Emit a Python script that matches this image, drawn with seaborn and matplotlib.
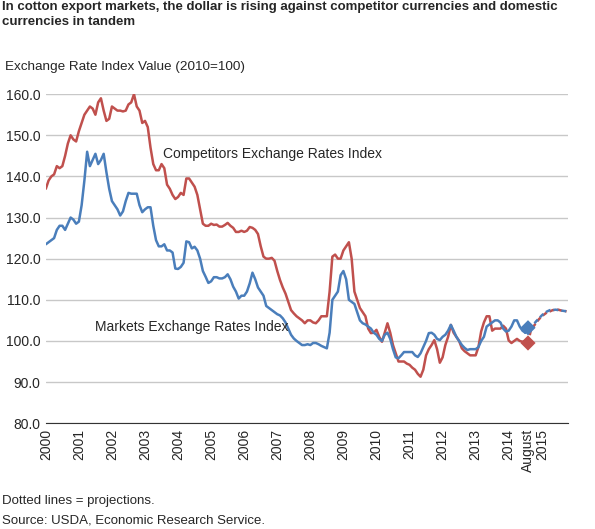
import numpy as np
import pandas as pd
import matplotlib
matplotlib.use("Agg")
import matplotlib.pyplot as plt
import seaborn as sns

competitors = [
    137,139,140,140.5,142.5,142,142.5,145,148,150,149,148.5,
    151,153,155,156,157,156.5,155,158,159,156,153.5,154,
    157,156.5,156,156,155.8,156,157.5,158,160,157,156,153,
    153.5,152,147,143,141.5,141.5,143,142,138,137,135.5,134.5,
    135,136,135.5,139.5,139.5,138.5,137.5,135.5,132,128.5,128,128,
    128.5,128.2,128.3,127.8,127.8,128.2,128.7,128,127.5,126.5,126.5,126.8,
    126.5,126.8,127.7,127.5,127,126,123,120.5,120,120,120.2,119.5,
    117,114.8,113,111.5,109.5,107.5,106.7,106,105.5,105,104.3,105,
    105,104.5,104.3,105,106,106,106,112,120.5,121,120,120,
    122,123,124,120,112,110,108,107,106,103,101.9,102,
    102.7,101,99.8,102,104.3,102,99,97,95,95,95,94.5,
    94.2,93.5,93,92,91.3,93,96.5,98,99,100.2,98,94.7,
    96,99,101,103.9,102,101,100,98.2,97.5,97,96.5,96.5,
    96.5,98.5,102.3,104.5,106,106,102.5,103,103,103,103.7,103,
    100.1,99.5,100,100.5,100,99.8,100,
]
markets = [
    123.5,124,124.5,125,127,128,128,127,128.5,130,129.5,128.5,
    129,133,139,146,142.5,144,145.5,143,144,145.5,141,137,
    134,133,132,130.5,131.5,134,136,135.8,135.8,135.8,133,131.3,
    132,132.5,132.5,128,124.5,123,123,123.5,122,122,121.5,117.6,
    117.5,118,119,124.2,124,122.5,122.9,122,120,117,115.6,114.1,
    114.5,115.5,115.5,115.2,115.2,115.5,116.2,115,113.2,112,110.3,111,
    111,112,114,116.6,115,113,112,111,108.5,108,107.5,107,
    106.5,106.2,105.5,104.5,103,101.5,100.6,100,99.5,99,99,99.2,
    99,99.5,99.5,99.2,98.8,98.5,98.2,102,110,111,112,116,
    117,115,110,109.5,109,107,105,104.3,104,103.5,103,102,
    101.5,100.5,100,101.5,102,100.5,98,96,95.8,96.5,97.3,97.3,
    97.3,97.3,96.5,96.1,97,98.5,100,101.9,102,101.5,100.5,100.2,
    101,101.5,102.5,103.9,102.5,101,100,99,98.3,97.8,98,98,
    98,98.5,100,101,103.5,104,104.5,105,105,104.5,103,102.3,
    102.5,103.5,105,105,103.5,102.5,102,
]
aug_competitors = 99.5
aug_markets = 103.2
proj_competitors = [102.5,103.5,104.5,105.3,106,106.5,107,107.2,107.5,107.5,107.6,107.4,107.3,107.2]
proj_markets = [103.5,104,104.8,105.5,106.2,106.8,107.2,107.5,107.5,107.6,107.5,107.4,107.3,107.2]
year_labels = [str(y) for y in range(2000, 2015)]

RED = "#c0504d"; BLUE = "#4a7ebb"
sns.set_style("white")
plt.rcParams['font.family'] = ['Liberation Sans', 'DejaVu Sans']

n = len(competitors)
t = 2000 + np.arange(n) / 12
t_aug = 2000 + n / 12
t_proj = t_aug + (1 + np.arange(len(proj_competitors))) / 12

hist = pd.DataFrame({"t": np.concatenate([t, t]),
                     "v": competitors + markets,
                     "s": ["C"] * n + ["M"] * n})
proj = pd.DataFrame({"t": np.concatenate([[t_aug], t_proj, [t_aug], t_proj]),
                     "v": [aug_competitors] + proj_competitors + [aug_markets] + proj_markets,
                     "s": ["C"] * (len(t_proj) + 1) + ["M"] * (len(t_proj) + 1)})
pal = {"C": RED, "M": BLUE}

fig = plt.figure(figsize=(5.95, 5.29), dpi=100)
ax = fig.add_axes([0.077, 0.2, 0.878, 0.622])
sns.lineplot(data=hist, x="t", y="v", hue="s", palette=pal, lw=1.8, legend=False, ax=ax)
sns.lineplot(data=proj, x="t", y="v", hue="s", palette=pal, lw=1.8, legend=False, ax=ax, linestyle=(0, (2, 1.2)))
for hv, av, c in [(competitors[-1], aug_competitors, RED), (markets[-1], aug_markets, BLUE)]:
    ax.plot([t[-1], t_aug], [hv, av], color=c, lw=1.8)
sns.scatterplot(x=[t_aug, t_aug], y=[aug_markets, aug_competitors], hue=["M", "C"],
                palette=pal, marker="D", s=60, legend=False, ax=ax, zorder=5, edgecolor="none")

ax.set_ylim(80, 160)
ax.set_xlim(2000, 2015.8)
ax.set_yticks(np.arange(80, 161, 10))
ax.set_yticklabels([f"{v:.1f}" for v in np.arange(80, 161, 10)], fontsize=10)
ticks = list(range(2000, 2015)) + [2014 + 7/12, 2015]
ax.set_xticks(ticks)
ax.set_xticklabels(year_labels + ["August", "2015"], rotation=90, fontsize=10)
ax.tick_params(axis="both", length=0, pad=4)
ax.grid(axis="y", color="#c8c8c8", lw=1)
ax.set_axisbelow(True)
for s in ["top", "right", "left"]:
    ax.spines[s].set_visible(False)
ax.spines["bottom"].set_color("#333333")
ax.set_xlabel(""); ax.set_ylabel("")

fig.text(0.003, 0.998, "In cotton export markets, the dollar is rising against competitor currencies and domestic\ncurrencies in tandem",
         fontsize=9.5, fontweight="bold", va="top", ha="left", linespacing=1.3)
fig.text(0.008, 0.874, "Exchange Rate Index Value (2010=100)", fontsize=9.7, va="center")
ax.text(2003.55, 145.5, "Competitors Exchange Rates Index", fontsize=10, va="center")
ax.text(2001.5, 103.5, "Markets Exchange Rates Index", fontsize=10, va="center")
fig.text(0.003, 0.052, "Dotted lines = projections.", fontsize=9.5, va="center")
fig.text(0.003, 0.016, "Source: USDA, Economic Research Service.", fontsize=9.5, va="center")
fig.savefig("out.png", dpi=100)
